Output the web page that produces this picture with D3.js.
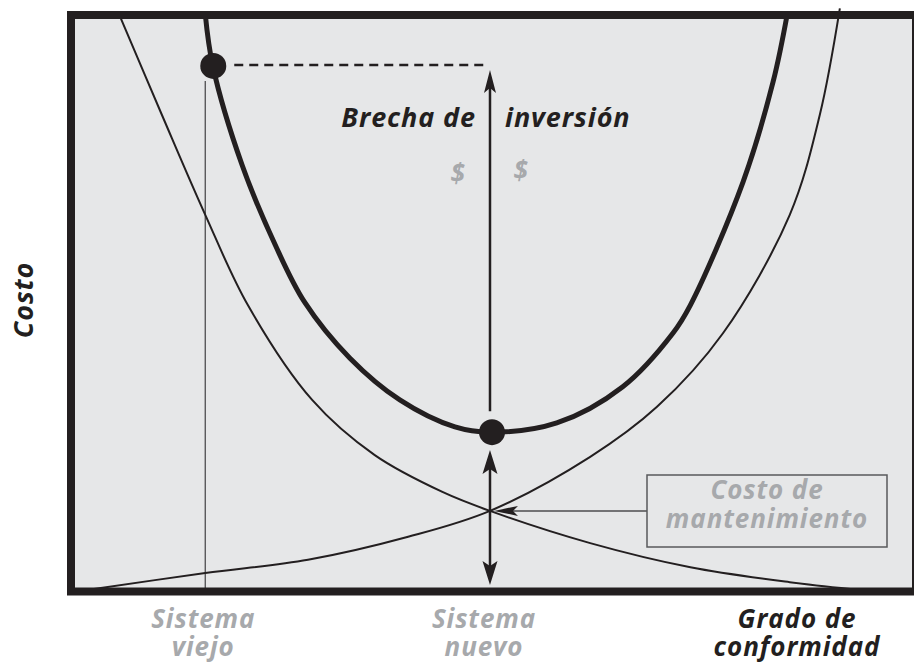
<!DOCTYPE html>
<html>
<head>
<meta charset="utf-8">
<script src="https://cdn.jsdelivr.net/npm/d3@7"></script>
<style>
  body { margin: 0; background: #fff; }
  svg text { font-family: "Open Sans", "DejaVu Sans", sans-serif; font-weight: 700; font-style: italic; letter-spacing: 0.9px; }
</style>
</head>
<body>
<svg id="svg" width="914" height="664"></svg>
<script>
// 曲線のデータ（横軸：適合度 0-100、縦軸：コスト 0-100）
// 保守コスト（減少する曲線）
const decX = [5.5, 10.4, 15.6, 20.7, 28.4, 35.9, 44.0, 49.7, 61.7, 73.7, 85.6, 94.4];
const decCost = [99.7, 83.0, 65.6, 49.9, 33.4, 23.8, 17.4, 14.1, 8.5, 4.3, 1.7, 0.3];
// 開発コスト（増加する曲線）
const incX = [1.2, 15.6, 27.9, 39.9, 49.7, 61.7, 69.7, 77.6, 85.6, 89.2, 91.6];
const incCost = [0.3, 3.3, 5.6, 9.6, 14.1, 23.5, 32.2, 45.0, 65.6, 83.0, 101.5];
// 総コスト（太いU字曲線）
const totalX = [15.6, 16.5, 20.0, 24.0, 27.5, 32.9, 38.9, 45.5, 49.7, 57.7, 65.6, 71.6, 73.7, 80.0, 83.6, 85.3];
const totalCost = [100.5, 91.5, 74.3, 60.3, 50.4, 40.7, 33.4, 28.7, 27.8, 29.4, 35.7, 45.0, 49.9, 71.3, 88.7, 100.5];
// 旧システム・新システムの位置
const systemNames = [["Sistema", "viejo"], ["Sistema", "nuevo"]];
const systemX = [15.6, 49.7];
const systemCost = [91.5, 27.8];
const maintCost = 14.1;
// ラベル
const xTitle = ["Grado de", "conformidad"];
const yTitle = "Costo";
const gapLabel = ["Brecha de", "inversión"];
const boxLabel = ["Costo de", "mantenimiento"];

const black = "#231f20";
const gray = "#a7a9ac";

const svg = d3.select("#svg");
const x = d3.scaleLinear().domain([0, 100]).range([75, 910]);
const y = d3.scaleLinear().domain([0, 100]).range([592, 17]);

// 枠（背景）
svg.append("rect")
  .attr("x", 71).attr("y", 15)
  .attr("width", 845).attr("height", 576.5)
  .attr("fill", "#e6e7e8");

// クリップ領域
svg.append("defs").append("clipPath").attr("id", "plotClip")
  .append("rect").attr("x", 75).attr("y", 8).attr("width", 835).attr("height", 580);

const toPts = (xs, ys) => xs.map((v, i) => [x(v), y(ys[i])]);
const line = d3.line().curve(d3.curveCatmullRom.alpha(0.5));

// 旧システムの縦線
svg.append("line")
  .attr("x1", x(systemX[0])).attr("x2", x(systemX[0]))
  .attr("y1", y(systemCost[0]) + 15).attr("y2", 588)
  .attr("stroke", "#4d4d4f").attr("stroke-width", 1.3);

const curves = svg.append("g").attr("clip-path", "url(#plotClip)");
curves.append("path").attr("d", line(toPts(decX, decCost)))
  .attr("fill", "none").attr("stroke", black).attr("stroke-width", 2);
curves.append("path").attr("d", line(toPts(incX, incCost)))
  .attr("fill", "none").attr("stroke", black).attr("stroke-width", 2);
curves.append("path").attr("d", line(toPts(totalX, totalCost)))
  .attr("fill", "none").attr("stroke", black).attr("stroke-width", 5);

// 破線（旧システムの総コストから）
svg.append("line")
  .attr("x1", x(systemX[0]) + 29).attr("x2", x(systemX[1]) - 2)
  .attr("y1", y(systemCost[0]) - 1).attr("y2", y(systemCost[0]) - 1)
  .attr("stroke", black).attr("stroke-width", 2.5)
  .attr("stroke-dasharray", "9,6");

// 矢印の頭を描く
function arrowHead(tx, ty, dir, len, half) {
  // dir: "up" "down" "left"
  let d;
  if (dir === "up") d = `M${tx},${ty} L${tx - half},${ty + len} L${tx},${ty + len - 5} L${tx + half},${ty + len} Z`;
  if (dir === "down") d = `M${tx},${ty} L${tx - half},${ty - len} L${tx},${ty - len + 5} L${tx + half},${ty - len} Z`;
  if (dir === "left") d = `M${tx},${ty} L${tx + len},${ty - half} L${tx + len - 5},${ty} L${tx + len},${ty + half} Z`;
  svg.append("path").attr("d", d).attr("fill", black);
}

const nx = x(systemX[1]);
// 投資ギャップの矢印
svg.append("line").attr("x1", nx).attr("x2", nx)
  .attr("y1", y(systemCost[1]) - 21).attr("y2", 80)
  .attr("stroke", black).attr("stroke-width", 2.5);
arrowHead(nx, 70, "up", 23, 6);

// 保守コストの両矢印
svg.append("line").attr("x1", nx).attr("x2", nx)
  .attr("y1", 465).attr("y2", 572)
  .attr("stroke", black).attr("stroke-width", 2.5);
arrowHead(nx, 450, "up", 24, 7.5);
arrowHead(nx, 585, "down", 24, 7.5);

// 点
svg.selectAll("circle.pt").data(systemX).join("circle")
  .attr("class", "pt")
  .attr("cx", (d, i) => x(d) + (i === 0 ? 8 : 2))
  .attr("cy", (d, i) => y(systemCost[i]))
  .attr("r", 13).attr("fill", black);

// ラベルの箱と矢印
svg.append("line").attr("x1", 647).attr("x2", 505)
  .attr("y1", y(maintCost)).attr("y2", y(maintCost))
  .attr("stroke", "#4d4d4f").attr("stroke-width", 1.4);
arrowHead(nx + 4, y(maintCost), "left", 24, 5);
svg.append("rect").attr("x", 647).attr("y", 475).attr("width", 240).attr("height", 72)
  .attr("fill", "none").attr("stroke", "#58595b").attr("stroke-width", 1.5);
svg.selectAll("text.box").data(boxLabel).join("text")
  .attr("class", "box")
  .attr("x", 767).attr("y", (d, i) => 499 + i * 29)
  .attr("text-anchor", "middle").attr("font-size", 26).attr("fill", gray)
  .text(d => d);

// 枠線
svg.append("rect")
  .attr("x", 71).attr("y", 15)
  .attr("width", 845).attr("height", 576.5)
  .attr("fill", "none").attr("stroke", black).attr("stroke-width", 8);

// 投資ギャップのテキスト
svg.append("text").attr("x", 476).attr("y", 127).attr("text-anchor", "end")
  .attr("font-size", 27).attr("fill", black).text(gapLabel[0]);
svg.append("text").attr("x", 505).attr("y", 127).attr("text-anchor", "start")
  .attr("font-size", 27).attr("fill", black).text(gapLabel[1]);
svg.append("text").attr("x", 458).attr("y", 183).attr("text-anchor", "middle")
  .attr("font-size", 26).attr("fill", gray).text("$");
svg.append("text").attr("x", 521).attr("y", 180).attr("text-anchor", "middle")
  .attr("font-size", 26).attr("fill", gray).text("$");

// 縦軸タイトル
svg.append("text").attr("transform", "translate(33,300) rotate(-90)")
  .attr("text-anchor", "middle").attr("font-size", 27).attr("fill", black)
  .text(yTitle);

// 横軸のラベル
systemNames.forEach((lines, i) => {
  svg.selectAll(null).data(lines).join("text")
    .attr("x", x(systemX[i]) - (i === 0 ? 2 : 6))
    .attr("y", (d, j) => 628 + j * 28)
    .attr("text-anchor", "middle").attr("font-size", 26).attr("fill", gray)
    .text(d => d);
});
svg.selectAll("text.xt").data(xTitle).join("text")
  .attr("class", "xt")
  .attr("x", 797).attr("y", (d, j) => 628 + j * 28)
  .attr("text-anchor", "middle").attr("font-size", 26).attr("fill", black)
  .text(d => d);
</script>
</body>
</html>
